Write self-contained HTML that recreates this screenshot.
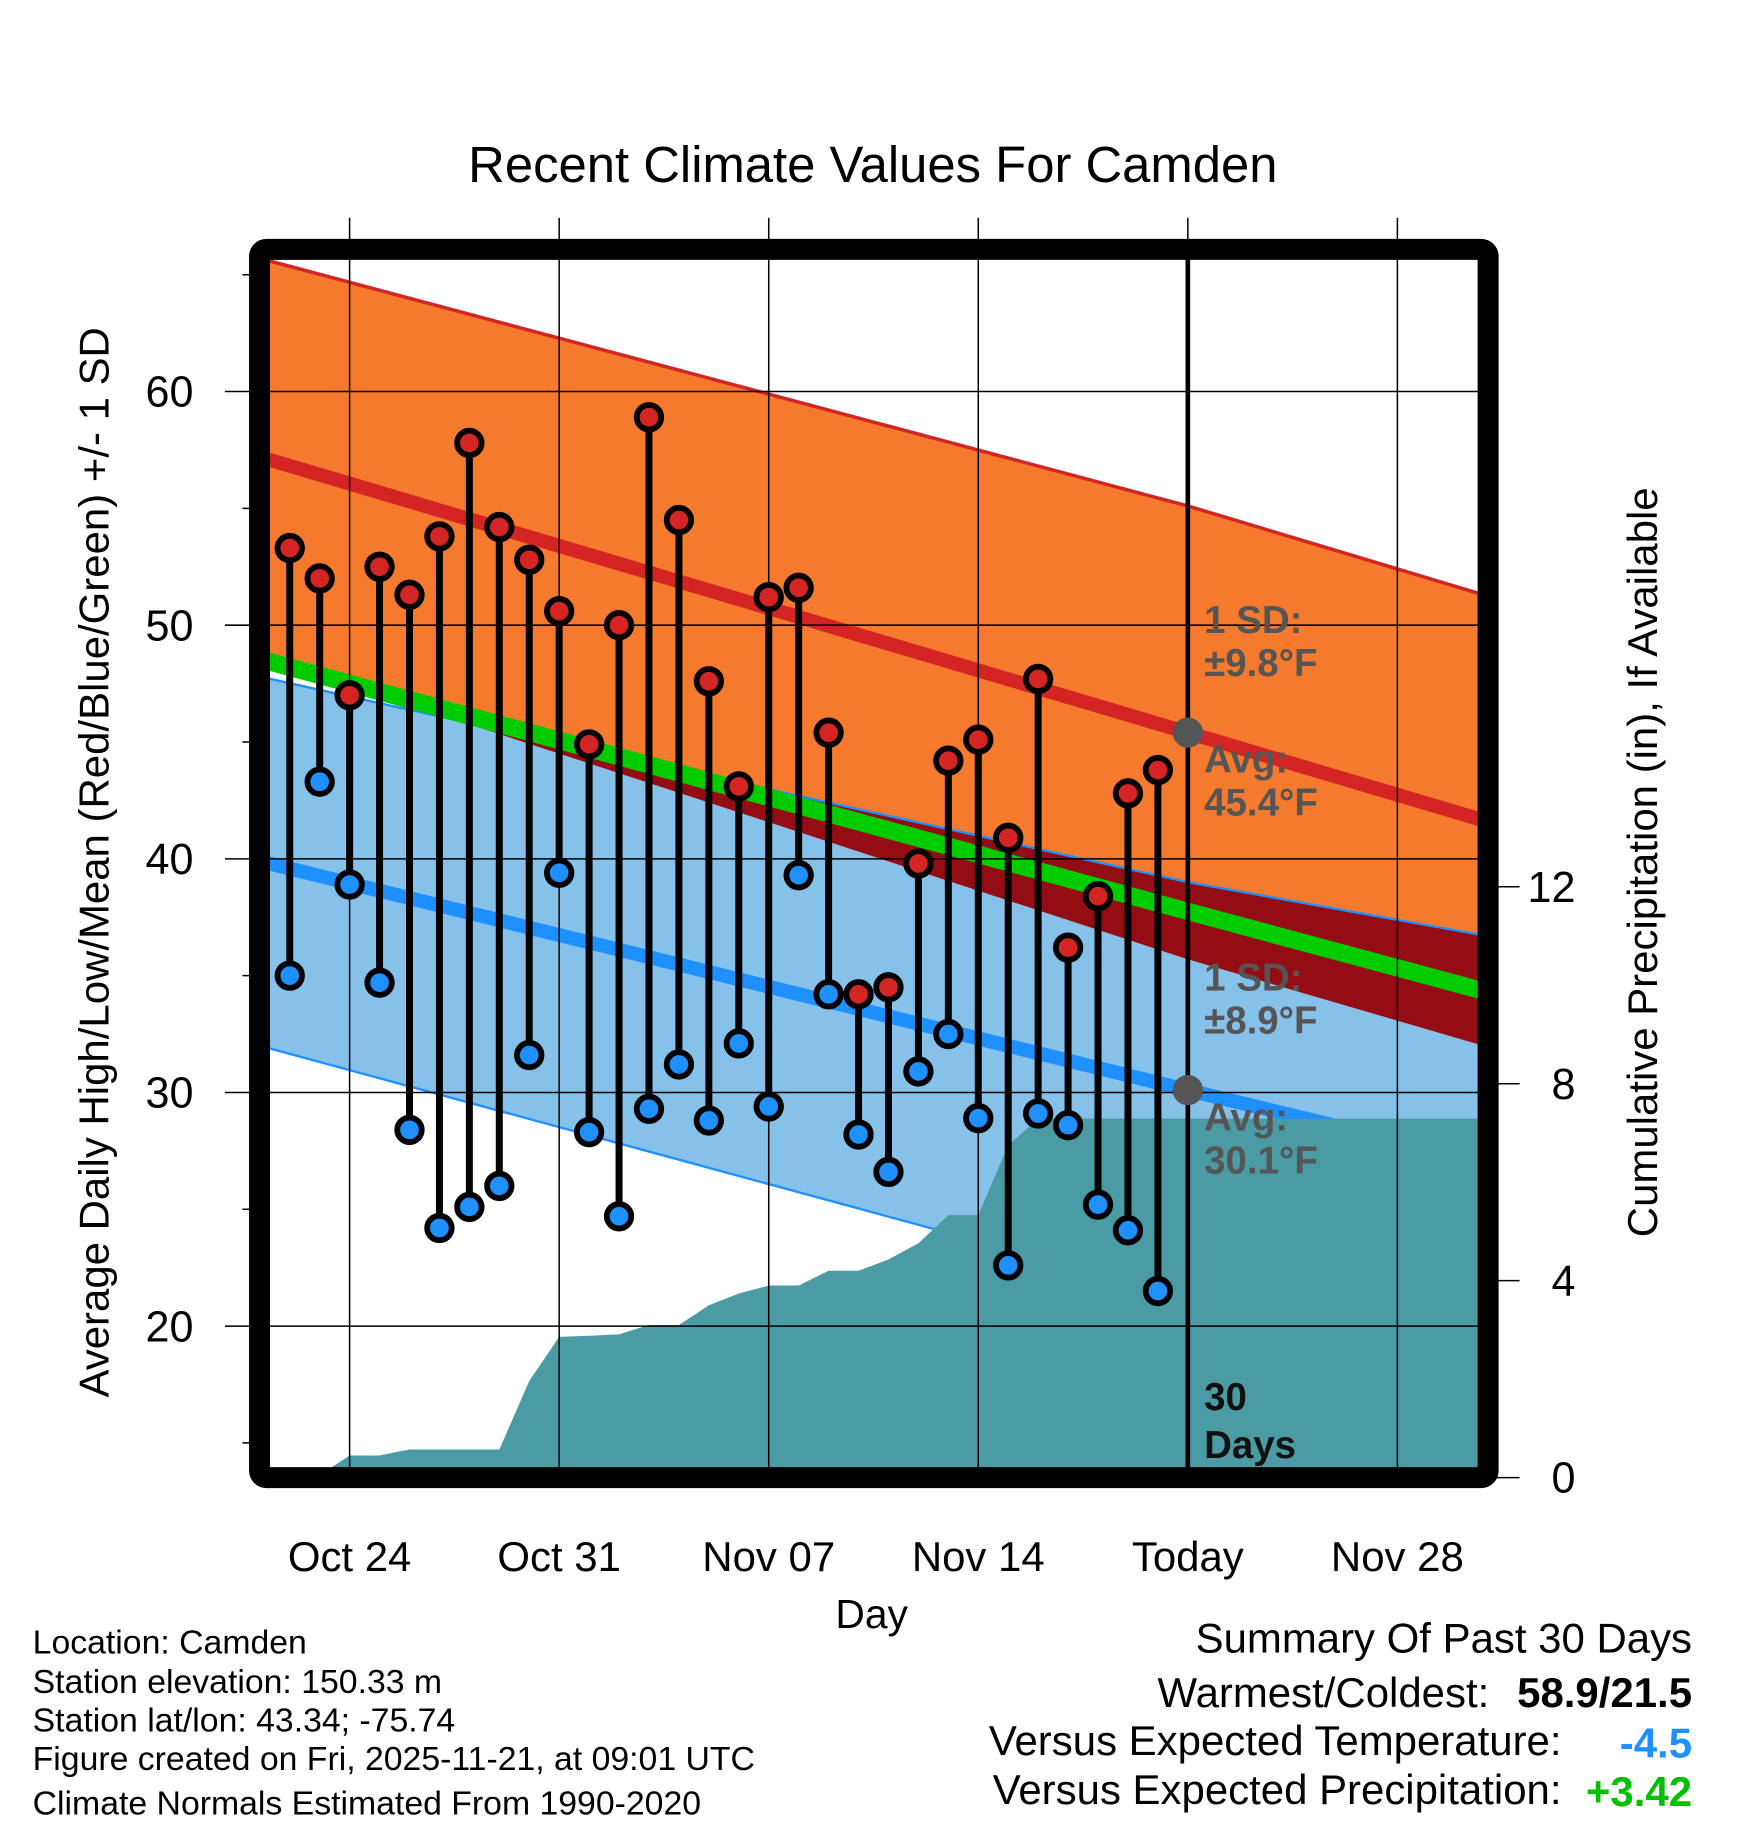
<!DOCTYPE html>
<html><head><meta charset="utf-8"><style>
html,body{margin:0;padding:0;background:#fff}
svg{display:block;font-family:"Liberation Sans",sans-serif}
</style></head><body>
<svg id="chart" width="1748" height="1828" viewBox="0 0 1500 1568.7" xmlns="http://www.w3.org/2000/svg">
<defs>
<clipPath id="plotClip"><rect x="222.7" y="214" width="1054.3" height="1054"/></clipPath>
<clipPath id="lowBandClip"><polygon id="lowBandClipPoly" points=""/></clipPath>
</defs>
<g id="plot" clip-path="url(#plotClip)"></g>
<g id="overlay"></g>
<text x="749" y="156" font-size="43.6" text-anchor="middle">Recent Climate Values For Camden</text>
<text x="748" y="1397" font-size="35" text-anchor="middle">Day</text>
<text transform="translate(93,740) rotate(-90)" font-size="36" text-anchor="middle">Average Daily High/Low/Mean (Red/Blue/Green) +/- 1 SD</text>
<text transform="translate(1422,740) rotate(-90)" font-size="36" text-anchor="middle">Cumulative Precipitation (in), If Available</text>
<g font-size="29">
<text x="28" y="1419">Location: Camden</text>
<text x="28" y="1453">Station elevation: 150.33 m</text>
<text x="28" y="1486">Station lat/lon: 43.34; -75.74</text>
<text x="28" y="1519">Figure created on Fri, 2025-11-21, at 09:01 UTC</text>
<text x="28" y="1557">Climate Normals Estimated From 1990-2020</text>
</g>
<g font-size="36">
<text x="1452" y="1418" text-anchor="end">Summary Of Past 30 Days</text>
<text x="1278" y="1465" text-anchor="end">Warmest/Coldest:</text>
<text x="1452" y="1465" text-anchor="end" font-weight="bold">58.9/21.5</text>
<text x="1340" y="1506" text-anchor="end">Versus Expected Temperature:</text>
<text x="1452" y="1508" text-anchor="end" font-weight="bold" fill="#1e90ff">-4.5</text>
<text x="1340" y="1548" text-anchor="end">Versus Expected Precipitation:</text>
<text x="1452" y="1550" text-anchor="end" font-weight="bold" fill="#00c000">+3.42</text>
</g>
</svg>
<script>
// ---- data ----
const obsDays = [-2,-1,0,1,2,3,4,5,6,7,8,9,10,11,12,13,14,15,16,17,18,19,20,21,22,23,24,25,26,27]; // days since Oct 24
const highs = [53.3,52.0,47.0,52.5,51.3,53.8,57.8,54.2,52.8,50.6,44.9,50.0,58.9,54.5,47.6,43.1,51.2,51.6,45.4,34.2,34.5,39.8,44.2,45.1,40.9,47.7,36.2,38.4,42.8,43.8];
const lows  = [35.0,43.3,38.9,34.7,28.4,24.2,25.1,26.0,31.6,39.4,28.3,24.7,29.3,31.2,28.8,32.1,29.4,39.3,34.2,28.2,26.6,30.9,32.5,28.9,22.6,29.1,28.6,25.2,24.1,21.5];
const precip = [0.0,0.05,0.45,0.45,0.57,0.57,0.57,0.57,1.96,2.86,2.88,2.91,3.1,3.1,3.5,3.74,3.9,3.9,4.2,4.2,4.43,4.76,5.33,5.33,6.75,7.29,7.29,7.29,7.29,7.29];
const normDays = [-3,28,38];
const normHigh = [57.2,45.4,41.6];
const sdHigh = [8.5,9.7,9.65];
const normLow = [39.9,30.1,27.0];
const sdLow = [7.9,8.9,9.7];
const xTickDays = [0,7,14,21,28,35];
const xTickLabels = ["Oct 24","Oct 31","Nov 07","Nov 14","Today","Nov 28"];
const yTicks = [20,30,40,50,60];
const yMinor = [15,25,35,45,55,65];
const y2Ticks = [0,4,8,12];
const todayDay = 28;

// ---- axes ----
const X0=222.7, X1=1277, Y0=214, Y1=1268;
const xs = d => 300 + d*25.69;
const ys = v => 336 + (60-v)*20.05;
const yp = p => 1268 - p*42.25;
const NS='http://www.w3.org/2000/svg';
function mk(tag, attrs, parent){const e=document.createElementNS(NS,tag);for(const k in attrs)e.setAttribute(k,attrs[k]);parent.appendChild(e);return e;}
const plot=document.getElementById('plot'), ov=document.getElementById('overlay');
const dStart=-3.5, dEnd=38.5;
function interp(arr,d){for(let i=0;i<normDays.length-1;i++){if(d<=normDays[i+1]||i===normDays.length-2){const t=(d-normDays[i])/(normDays[i+1]-normDays[i]);return arr[i]+t*(arr[i+1]-arr[i]);}}}
const samp=[dStart,...normDays.filter(d=>d>dStart&&d<dEnd),dEnd];
const f=(fn)=>samp.map(d=>[xs(d),ys(fn(d))]);
const hiUp=f(d=>interp(normHigh,d)+interp(sdHigh,d)), hiLo=f(d=>interp(normHigh,d)-interp(sdHigh,d));
const loUp=f(d=>interp(normLow,d)+interp(sdLow,d)), loLo=f(d=>interp(normLow,d)-interp(sdLow,d));
const pstr=a=>a.map(p=>p[0].toFixed(1)+','+p[1].toFixed(1)).join(' ');
const band=(u,l)=>pstr(u)+' '+pstr(l.slice().reverse());

let e;
e=mk('polygon',{points:band(loUp,loLo),fill:'#85c1e9'},plot);


e=mk('polygon',{points:band(hiUp,hiLo),fill:'#f57a2e'},plot);


document.getElementById('lowBandClipPoly').setAttribute('points',band(loUp,loLo));
e=mk('polygon',{points:band(hiUp,hiLo),fill:'#940d15','clip-path':'url(#lowBandClip)'},plot);


e=mk('polyline',{points:pstr(hiUp),fill:'none',stroke:'#d42424','stroke-width':3},plot);


e=mk('polyline',{points:pstr(loUp),fill:'none',stroke:'#1e90ff','stroke-width':2},plot);


e=mk('polyline',{points:pstr(loLo),fill:'none',stroke:'#1e90ff','stroke-width':2},plot);


e=mk('polyline',{points:pstr(f(d=>(interp(normHigh,d)+interp(normLow,d))/2)),fill:'none',stroke:'#00cc00','stroke-width':15},plot);


e=mk('polyline',{points:pstr(f(d=>interp(normHigh,d))),fill:'none',stroke:'#d42424','stroke-width':12},plot);


e=mk('polyline',{points:pstr(f(d=>interp(normLow,d))),fill:'none',stroke:'#1e90ff','stroke-width':12},plot);



// precip area
let pp=[[xs(obsDays[0]),yp(0)]];
obsDays.forEach((d,i)=>pp.push([xs(d),yp(precip[i])]));
pp.push([xs(dEnd),yp(precip[precip.length-1])]);
pp.push([xs(dEnd),yp(0)]);
e=mk('polygon',{points:pstr(pp),fill:'#4a9ba4'},plot);



// grid
yTicks.forEach(v=>{
 e=mk('line',{x1:X0,x2:X1,y1:ys(v),y2:ys(v),stroke:'#000','stroke-width':1.3},plot);
 
 
 e=mk('line',{x1:193,x2:X0,y1:ys(v),y2:ys(v),stroke:'#000','stroke-width':1.3},ov);
 
 
 e=mk('text',{x:166,y:ys(v)+13,'font-size':37,'text-anchor':'end'},ov);
 e.textContent=v;
 
 
});
yMinor.forEach(v=>{
 e=mk('line',{x1:208,x2:X0,y1:ys(v),y2:ys(v),stroke:'#000','stroke-width':1.3},ov);
 
 
});
y2Ticks.forEach(p=>{
 e=mk('line',{x1:X1,x2:1304,y1:yp(p),y2:yp(p),stroke:'#000','stroke-width':1.3},ov);
 
 
 e=mk('text',{x:1352,y:yp(p)+13,'font-size':37,'text-anchor':'end'},ov);
 e.textContent=p;
 
 
});
xTickDays.forEach((d,i)=>{
 e=mk('line',{x1:xs(d),x2:xs(d),y1:187,y2:Y1,stroke:'#000','stroke-width':1.3},ov);
 
 
 e=mk('text',{x:xs(d),y:1348,'font-size':36,'text-anchor':'middle'},ov);
 e.textContent=xTickLabels[i];
 
 
});

// today line
const tx=xs(todayDay);
e=mk('line',{x1:tx,x2:tx,y1:Y0,y2:Y1,stroke:'#000','stroke-width':4},ov);


const lab=(t,y,fill,name)=>{e=mk('text',{x:tx+14,y:y,'font-size':33,'font-weight':'bold',fill:fill},ov);e.textContent=t;};
lab('1 SD:',543,'#555','high-sd-label');
lab('±9.8°F',580,'#555','high-sd-value');
lab('Avg:',663,'#555','high-avg-label');
lab('45.4°F',700,'#555','high-avg-value');
lab('1 SD:',850,'#555','low-sd-label');
lab('±8.9°F',887,'#555','low-sd-value');
lab('Avg:',970,'#555','low-avg-label');
lab('30.1°F',1007,'#555','low-avg-value');
lab('30',1210,'#111','days-count');
lab('Days',1251,'#111','days-label');
e=mk('circle',{cx:tx,cy:ys(interp(normHigh,todayDay)),r:13,fill:'#555'},ov);


e=mk('circle',{cx:tx,cy:ys(interp(normLow,todayDay)),r:13,fill:'#555'},ov);



// observations
obsDays.forEach((d,i)=>{
 const x=xs(d);
 e=mk('line',{x1:x,x2:x,y1:ys(highs[i]),y2:ys(lows[i]),stroke:'#000','stroke-width':6},ov);
 
 
 e=mk('circle',{cx:x,cy:ys(highs[i]),r:10.5,fill:'#d42424',stroke:'#000','stroke-width':5},ov);
 
 
 e=mk('circle',{cx:x,cy:ys(lows[i]),r:10.5,fill:'#1e90ff',stroke:'#000','stroke-width':5},ov);
 
 
});

// frame
e=mk('rect',{x:X0,y:Y0,width:X1-X0,height:Y1-Y0,rx:6,fill:'none',stroke:'#000','stroke-width':18},ov);


</script>
</body></html>
